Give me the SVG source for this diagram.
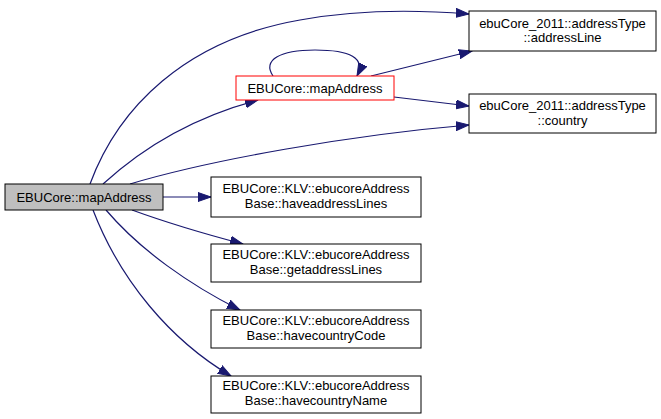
<svg xmlns="http://www.w3.org/2000/svg" width="661" height="419" viewBox="0 0 661 419">
<style>
.n{fill:#fff;stroke:#000;stroke-width:1}
.t{font-family:"Liberation Sans",Arial,sans-serif;font-size:13px;text-anchor:middle;fill:#000}
.e{fill:none;stroke:#191970;stroke-width:1.2}
</style>
<defs>
<marker id="a" markerWidth="14" markerHeight="10" refX="13" refY="5" orient="auto" markerUnits="userSpaceOnUse">
<path d="M0,0.5 L13,5 L0,9.5 Z" fill="#191970" stroke="#191970"/>
</marker>
</defs>
<rect width="661" height="419" fill="#fff"/>
<g id="edges">
<path class="e" marker-end="url(#a)" d="M90,184 C118,108 185,40 300,20 C360,9 420,10 469,14"/>
<path class="e" marker-end="url(#a)" d="M103,184 C140,150 190,118 258,100"/>
<path class="e" marker-end="url(#a)" d="M130,184 C210,160 350,135 469,125"/>
<path class="e" marker-end="url(#a)" d="M163,197 L211,197"/>
<path class="e" marker-end="url(#a)" d="M132,210 C165,222 205,234 243,244"/>
<path class="e" marker-end="url(#a)" d="M106,210 C140,250 190,285 240,310"/>
<path class="e" marker-end="url(#a)" d="M93,210 C120,280 170,340 231,376"/>
<path class="e" marker-end="url(#a)" d="M273,76 C262,60 280,50 315,50 C350,50 366,58 357,76"/>
<path class="e" marker-end="url(#a)" d="M371,76 L472,51"/>
<path class="e" marker-end="url(#a)" d="M394,97 L469,106"/>
</g>
<g id="main">
<rect x="5" y="184" width="158" height="26" fill="#bfbfbf" stroke="#000"/>
<text class="t" x="84" y="201.5">EBUCore::mapAddress</text>
</g>
<g id="mapAddress">
<rect x="236" y="76" width="158" height="24" fill="#fff" stroke="#f00"/>
<text class="t" x="315" y="92.5">EBUCore::mapAddress</text>
</g>
<g id="addressLine">
<rect class="n" x="469" y="11" width="187" height="40"/>
<text class="t" x="562.5" y="27.5">ebuCore_2011::addressType</text>
<text class="t" x="562.5" y="42">::addressLine</text>
</g>
<g id="country">
<rect class="n" x="469" y="94" width="187" height="39"/>
<text class="t" x="562.5" y="110">ebuCore_2011::addressType</text>
<text class="t" x="562.5" y="124.5">::country</text>
</g>
<g id="haveaddressLines">
<rect class="n" x="211" y="177" width="210" height="40"/>
<text class="t" x="316" y="192.5">EBUCore::KLV::ebucoreAddress</text>
<text class="t" x="316" y="207.5">Base::haveaddressLines</text>
</g>
<g id="getaddressLines">
<rect class="n" x="211" y="244" width="210" height="38"/>
<text class="t" x="316" y="258.5">EBUCore::KLV::ebucoreAddress</text>
<text class="t" x="316" y="273.5">Base::getaddressLines</text>
</g>
<g id="havecountryCode">
<rect class="n" x="211" y="310" width="210" height="38"/>
<text class="t" x="316" y="324.5">EBUCore::KLV::ebucoreAddress</text>
<text class="t" x="316" y="339.5">Base::havecountryCode</text>
</g>
<g id="havecountryName">
<rect class="n" x="211" y="376" width="210" height="37"/>
<text class="t" x="316" y="389.5">EBUCore::KLV::ebucoreAddress</text>
<text class="t" x="316" y="404.5">Base::havecountryName</text>
</g>
</svg>
